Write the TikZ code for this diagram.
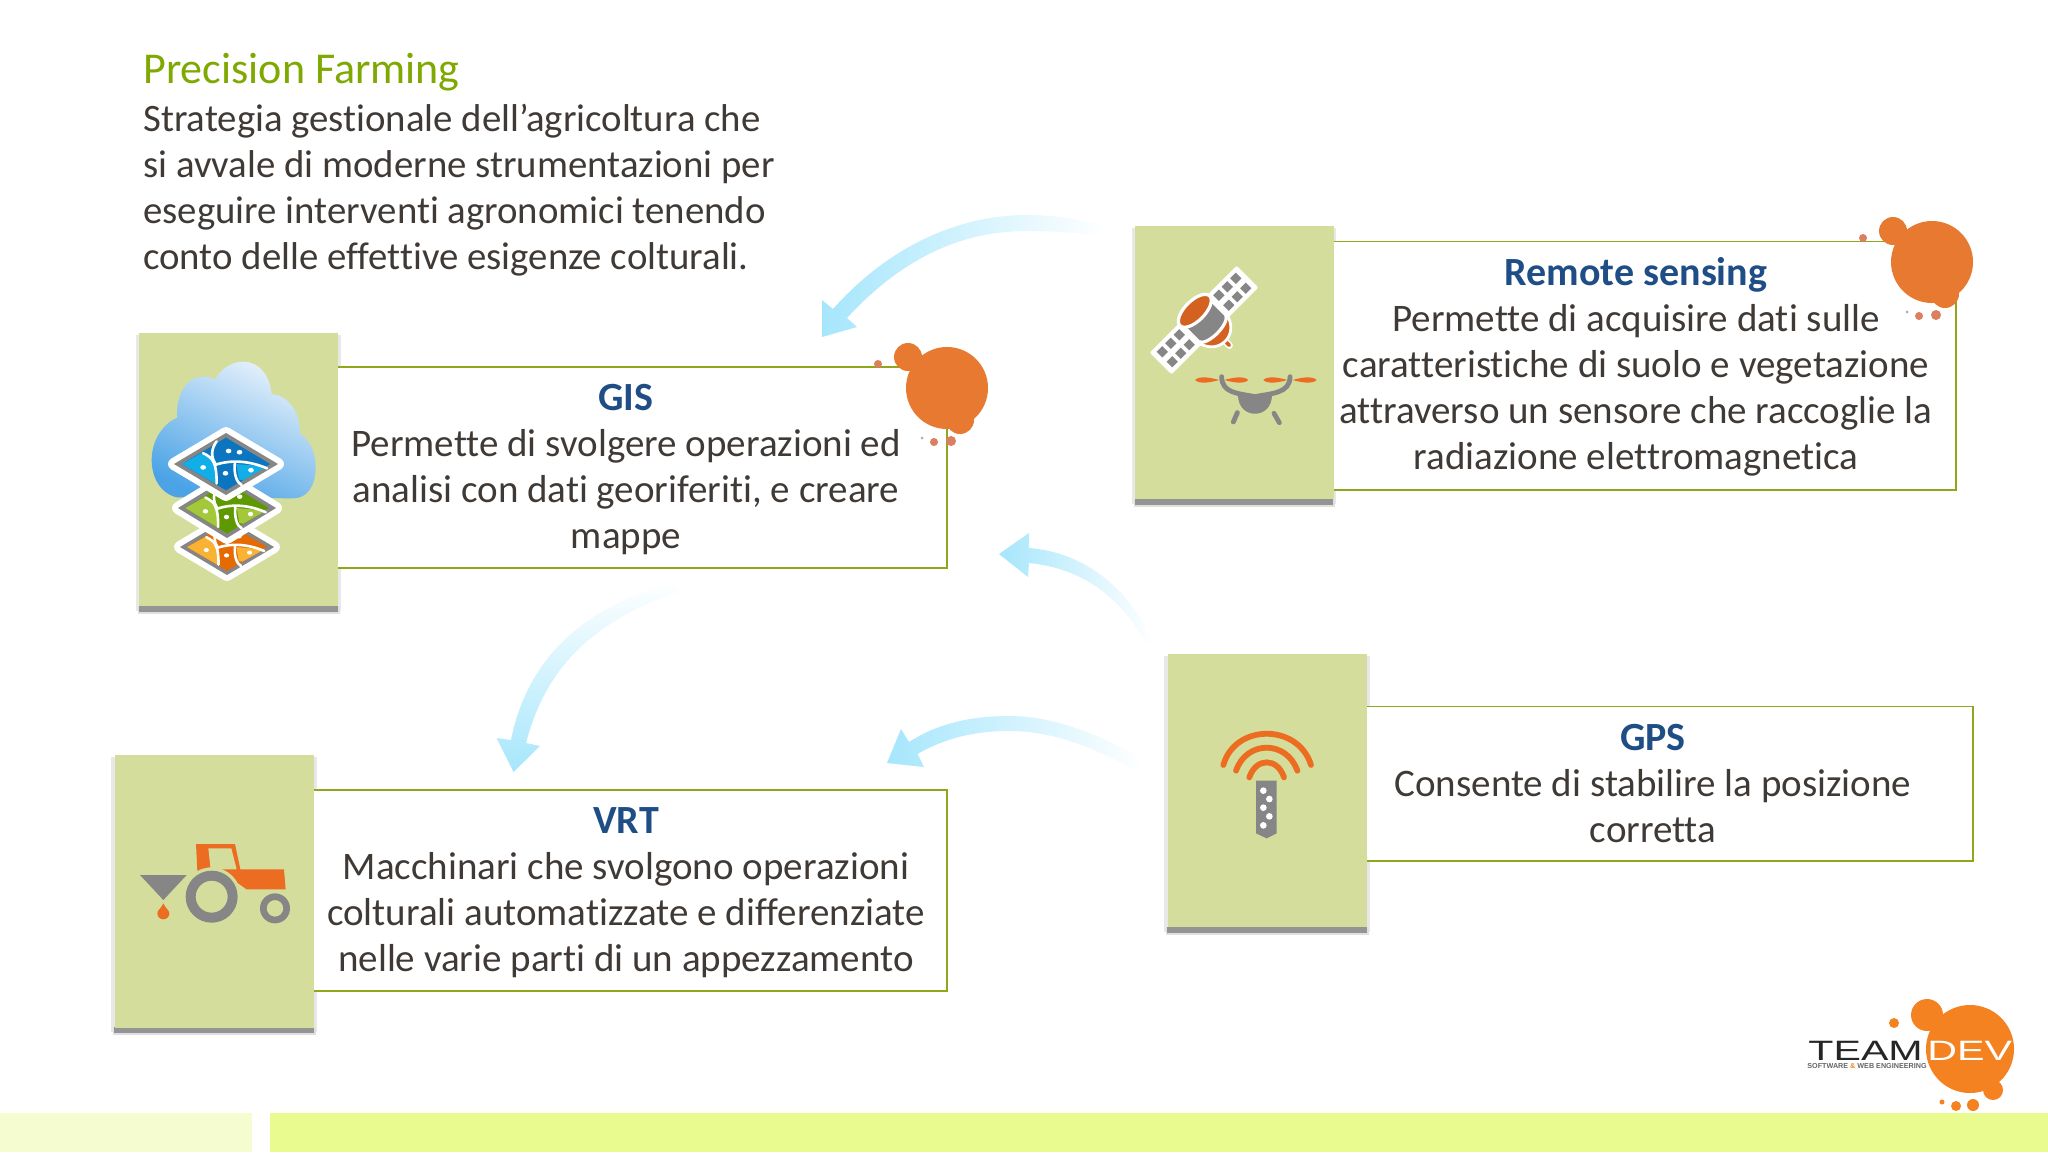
\documentclass[tikz,border=0pt]{standalone}
\usepackage{fontspec}
\usepackage{graphicx}
\setmainfont[Ligatures=NoCommon]{Carlito}
\newfontfamily\logofont{Liberation Sans}
\definecolor{tile}{HTML}{D4DD9C}
\definecolor{cardline}{HTML}{8EA81C}
\definecolor{bodytext}{HTML}{403A36}
\definecolor{headtext}{HTML}{1F4E86}
\definecolor{titlegreen}{HTML}{7FA800}
\definecolor{flow}{HTML}{A6E6FC}
\definecolor{splash}{HTML}{E77A30}
\definecolor{splashdot}{HTML}{DB7F5E}
\definecolor{logoorange}{HTML}{F58220}
\definecolor{icongrey}{HTML}{868686}
\definecolor{iconorange}{HTML}{EC6C22}
\definecolor{bandlight}{HTML}{F5FCD0}
\definecolor{bandmain}{HTML}{E9FB8E}
\definecolor{cloudlight}{HTML}{E6F1FB}
\definecolor{cloudblue}{HTML}{4BA3E6}
\definecolor{mapbluel}{HTML}{12AEE8}
\definecolor{mapblued}{HTML}{0B75C0}
\definecolor{mapgreenl}{HTML}{A3C93A}
\definecolor{mapgreend}{HTML}{5F9900}
\definecolor{maporangel}{HTML}{F9B233}
\definecolor{maporanged}{HTML}{E56A00}
\tikzset{
  cardbox/.style={draw=cardline,line width=0.8pt,fill=white,inner sep=0pt,outer sep=0pt},
  tilebox/.style={fill=tile,inner sep=0pt,outer sep=0pt,minimum width=99.5pt,minimum height=136.5pt},
  cardtext/.style={text=bodytext,align=center,inner sep=0pt,font=\fontsize{19.5}{23}\selectfont},
  road/.style={draw=white,line width=1.3pt,line cap=round},
  arm/.style={draw=icongrey,line width=2.4pt,line cap=round},
  wave/.style={draw=iconorange,line width=2.9pt,line cap=round}
}
\newcommand{\cardhead}[1]{{\fontsize{20}{23}\selectfont\bfseries\color{headtext}#1}}
\newcommand{\tileside}[4]{%
  \fill[black!9] (#1-3,#2+2) rectangle (#3+3,#4+5);
}
\newcommand{\tilebar}[4]{%
  \fill[black!12] (#1-1,#4) rectangle (#3+2,#4+8);
  \fill[black!42] (#1,#4) rectangle (#3,#4+6);
}
\newcommand{\splatter}[2]{%
  \begin{scope}[shift={(#1,#2)}]
    \fill[splashdot] (878,364) circle (4);
    \fill[splash] (947,388) circle (41);
    \fill[splash] (908,357) circle (14);
    \fill[splash] (960,420) circle (14);
    \fill[splashdot] (951,441) circle (5);
    \fill[splashdot] (934,442) circle (4);
    \fill[icongrey!70] (922,438) circle (1.5);
  \end{scope}
}
\newcommand{\mapdiamond}[6]{%
  \begin{scope}[shift={(#1,#2)},xscale=#3,yscale=#4]
    \draw[white,fill=white,line width=6pt,line join=round] (-1,0)--(0,-1)--(1,0)--(0,1)--cycle;
    \fill[icongrey] (-1,0)--(0,-1)--(1,0)--(0,1)--cycle;
    \fill[#6] (-.85,0)--(0,-.85)--(.85,0)--(0,.85)--cycle;
    \fill[#5] (-.85,0)--(-.44,-.38)--(-.18,.09)--(-.18,.66)--cycle;
    \fill[#5] (.2,0)--(.79,.09)--(.33,.52)--(.25,.5)--cycle;
    \draw[road] (-.44,-.35) .. controls (-.25,-.2) and (-.18,-.05) .. (-.18,.63);
    \draw[road] (-.18,-.73) .. controls (-.28,-.5) and (-.3,-.25) .. (-.2,0);
    \draw[road] (-.21,.03) .. controls (.1,-.15) and (.45,-.1) .. (.79,.14);
    \draw[road] (.17,-.02) .. controls (.15,.3) and (.2,.6) .. (.3,.68);
    \foreach \dx/\dy in {.05/-.42,.26/-.38,-.44/.11,-.01/.30,.48/.2}
      \fill[white] (\dx,\dy) ellipse ({0.055} and {0.075});
  \end{scope}
}
\begin{document}
\begin{tikzpicture}[x=0.5pt,y=-0.5pt]
\useasboundingbox (0,0) rectangle (2048,1152);
\fill[white] (0,0) rectangle (2048,1152);
% bottom band
\fill[bandlight] (0,1113) rectangle (252,1152);
\fill[bandmain] (270,1113) rectangle (2048,1152);

% intro text
\node[text=titlegreen,anchor=west,inner sep=0pt,font=\fontsize{22}{23}\selectfont] (introtitle) at (143,72) {Precision Farming};
\node[text=bodytext,align=left,anchor=west,inner sep=0pt,font=\fontsize{19.4}{23}\selectfont] (intro) at (143,190)
 {Strategia gestionale dell’agricoltura che\\si avvale di moderne strumentazioni per\\eseguire interventi agronomici tenendo\\conto delle effettive esigenze colturali.};

% tile side shadows, under the cards
\tileside{139}{333}{338}{606}
\tileside{1135}{226}{1333}{499}
\tileside{114}{755}{314}{1027}
\tileside{1167}{654}{1367}{927}

% cards (their left edges run under the tiles)
\node[cardbox,minimum width=308pt,minimum height=100.5pt] (gisbox) at (639,467.5) {};
\node[cardbox,minimum width=315pt,minimum height=124.2pt] (rembox) at (1641,365.8) {};
\node[cardbox,minimum width=320.5pt,minimum height=100.5pt] (vrtbox) at (626.5,890.5) {};
\node[cardbox,minimum width=307pt,minimum height=77.2pt] (gpsbox) at (1666,783.7) {};
\splatter{0}{0}
\splatter{985}{-126}

% tiles
\tilebar{139}{333}{338}{606}
\node[tilebox] (gistile) at (238.5,469.5) {};
\tilebar{1135}{226}{1333}{499}
\node[tilebox] (remtile) at (1234,362.5) {};
\tilebar{114}{755}{314}{1027}
\node[tilebox] (vrttile) at (214,891) {};
\tilebar{1167}{654}{1367}{927}
\node[tilebox] (gpstile) at (1267,790.5) {};

% card texts
\node[cardtext] (gistext) at (626,469.5) {\cardhead{GIS}\\Permette di svolgere operazioni ed\\analisi con dati georiferiti, e creare\\mappe};
\node[cardtext] (remtext) at (1636,367) {\cardhead{Remote sensing}\\Permette di acquisire dati sulle\\caratteristiche di suolo e vegetazione\\attraverso un sensore che raccoglie la\\radiazione elettromagnetica};
\node[cardtext] (vrttext) at (626,892.5) {\cardhead{VRT}\\Macchinari che svolgono operazioni\\colturali automatizzate e differenziate\\nelle varie parti di un appezzamento};
\node[cardtext] (gpstext) at (1653,784) {\cardhead{GPS}\\Consente di stabilire la posizione\\corretta};

% flow arrows
\shade[left color=flow,middle color=flow!85,right color=white]
  (833,309) .. controls (890,245) and (960,215) .. (1027,215) .. controls (1050,215) and (1075,218) .. (1105,226)
  -- (1105,236) .. controls (1070,232) and (1050,231) .. (1027,231) .. controls (965,231) and (905,255) .. (847,318)
  -- (857,327) -- (822,337) -- (822,300) -- cycle;
\shade[bottom color=flow,middle color=flow!88,top color=white]
  (511,740) .. controls (525,670) and (570,610) .. (678,581)
  -- (678,592) .. controls (590,622) and (545,670) .. (526,743)
  -- (540,746) -- (513.5,772) -- (496.5,738) -- cycle;
\shade[left color=flow,middle color=flow!65,right color=white]
  (1029,548) .. controls (1085,552) and (1130,590) .. (1153,642)
  -- (1146,644) .. controls (1120,595) and (1080,568) .. (1029,563)
  -- (1028,577) -- (999,554) -- (1029,533) -- cycle;
\shade[left color=flow,middle color=flow!90,right color=white]
  (909,742) .. controls (940,722) and (975,716) .. (1009,716) .. controls (1055,716) and (1100,735) .. (1143,759)
  -- (1137,771) .. controls (1090,745) and (1050,731) .. (1009,731) .. controls (975,731) and (945,738) .. (917.5,754)
  -- (924,767) -- (887,763) -- (901,729) -- cycle;

% GIS icon
\begin{scope}[shift={(120,320)},scale=1/3]
  \shade[left color=cloudlight,right color=cloudblue,shading angle=-25]
    (170,532) .. controls (120,520) and (95,470) .. (95,420) .. controls (95,360) and (130,310) .. (172,293)
    .. controls (165,230) and (200,170) .. (245,170) .. controls (260,170) and (275,172) .. (285,178)
    .. controls (305,145) and (335,125) .. (370,125) .. controls (420,125) and (450,170) .. (455,222)
    .. controls (500,225) and (540,270) .. (540,340) .. controls (570,360) and (587,400) .. (587,440)
    .. controls (587,500) and (560,535) .. (520,535) -- cycle;
\end{scope}
\mapdiamond{227}{547}{47}{28}{maporangel}{maporanged}
\mapdiamond{227}{508}{49}{30}{mapgreenl}{mapgreend}
\mapdiamond{226}{464}{52}{31}{mapbluel}{mapblued}

% Remote sensing icon: satellite
\begin{scope}[shift={(1204,320)},rotate=45]
  \draw[white,fill=white,line width=1.4pt,line join=round] (-60,-14) rectangle (60,14);
  \foreach \cx in {28,40,52,-28,-40,-52}
    \foreach \cy in {-7,7}
      \fill[icongrey] (\cx-4,\cy-4) rectangle (\cx+4,\cy+4);
  \draw[white,line width=3.4pt,line cap=round] (0,18) -- (0,36);
  \draw[iconorange!90!black,line width=1.8pt,line cap=round] (0,18) -- (0,36);
  \draw[white,fill=iconorange!90!black,line width=1.4pt] (-20,12) .. controls (-15,36) and (15,36) .. (20,12) -- cycle;
  \draw[white,line width=1.6pt,fill=icongrey] (-19,-12) -- (-19,12) .. controls (-15,21) and (15,21) .. (19,12) -- (19,-12) -- cycle;
  \draw[white,line width=1.6pt,fill=iconorange!90!black] (0,-13) ellipse (21 and 10);
\end{scope}
% drone
\begin{scope}[shift={(1120,210)},scale=1/3]
  \foreach \px in {305,510} {
    \fill[iconorange] (\px-80,510) .. controls (\px-65,495) and (\px-25,505) .. (\px-8,510) .. controls (\px-25,515) and (\px-65,525) .. (\px-80,510) -- cycle;
    \fill[iconorange] (\px+80,510) .. controls (\px+65,495) and (\px+25,505) .. (\px+8,510) .. controls (\px+25,515) and (\px+65,525) .. (\px+80,510) -- cycle;
  }
  \draw[arm] (305,500) .. controls (305,550) and (355,550) .. (405,560) .. controls (455,550) and (510,550) .. (510,500);
  \fill[icongrey] (355,555) -- (455,555) .. controls (455,630) and (355,630) .. (355,555) -- cycle;
  \draw[arm] (352,608) -- (340,636);
  \draw[arm] (462,610) -- (478,638);
\end{scope}

% VRT icon
\begin{scope}[shift={(110,800)},scale=1/3]
  \fill[iconorange] (258,132) -- (375,132) -- (391,208) -- (522,208) -- (527,268) -- (410,268) -- (370,240) -- (262,212) -- cycle;
  \fill[tile] (295,145) -- (364,145) -- (380,208) -- (302,208) -- cycle;
  \fill[tile] (305,290) circle (88);
  \fill[icongrey,even odd rule] (305,290) circle (78) (305,290) circle (48);
  \fill[icongrey,even odd rule] (495,325) circle (45) (495,325) circle (25);
  \fill[icongrey] (90,225) -- (230,225) -- (160,300) -- cycle;
  \fill[iconorange] (160,310) .. controls (166,325) and (178,330) .. (178,340) arc (0:180:18) .. controls (142,330) and (154,325) .. (160,310) -- cycle;
\end{scope}

% GPS icon
\begin{scope}[shift={(1180,700)},scale=1/3]
  \draw[wave] (130,195) .. controls (165,70) and (355,70) .. (393,195);
  \draw[wave] (168,212) .. controls (200,120) and (320,120) .. (352,212);
  \draw[wave] (208,232) .. controls (228,172) and (292,172) .. (312,232);
  \fill[icongrey] (228,242) -- (290,242) -- (290,400) -- (260,415) -- (228,400) -- cycle;
  \foreach \gx/\gy in {250/272,268/297,250/323,268/349,250/376}
    \fill[white] (\gx,\gy) circle (10);
\end{scope}

% logo
\fill[logoorange] (1970,1049) circle (44);
\fill[logoorange] (1927,1015) circle (16);
\fill[logoorange] (1993,1090) circle (10);
\fill[logoorange] (1973,1105) circle (6);
\fill[logoorange] (1956,1106) circle (5);
\fill[logoorange] (1942,1102) circle (2.5);
\fill[logoorange] (1894,1023) circle (5);
\node[inner sep=0pt,anchor=base west,text=black!85] (logoteam) at (1808,1060)
  {\logofont\fontsize{14}{14}\selectfont\scalebox{1.47}[1]{TEAM}};
\node[inner sep=0pt,anchor=base west,text=white] (logodev) at (1927,1060)
  {\logofont\fontsize{14}{14}\selectfont\scalebox{1.47}[1]{DEV}};
\node[inner sep=0pt,anchor=base west,text=black!60] (logosub) at (1807,1068)
  {\logofont\bfseries\fontsize{3.6}{4}\selectfont SOFTWARE {\color{logoorange}\&} WEB ENGINEERING};
\end{tikzpicture}
\end{document}
